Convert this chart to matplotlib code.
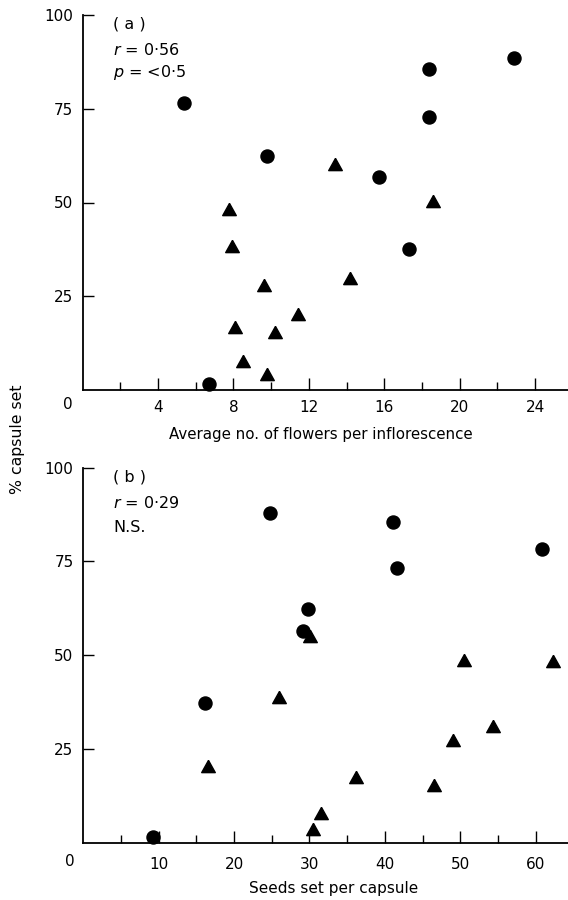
import matplotlib
matplotlib.use("Agg")
import matplotlib.pyplot as plt

# (a) % capsule set against average no. of flowers per inflorescence
a_circle_x = [5.4, 6.7, 9.8, 15.7, 17.3, 18.4, 18.4, 22.9]
a_circle_y = [76.6, 1.5, 62.4, 56.9, 37.5, 85.6, 72.7, 88.6]
a_tri_x = [7.75, 7.9, 8.1, 8.5, 9.6, 9.8, 10.2, 11.4, 13.4, 14.2, 18.6]
a_tri_y = [48.4, 38.5, 16.9, 7.7, 28.0, 4.4, 15.4, 20.2, 60.3, 30.0, 50.4]

# (b) % capsule set against seeds set per capsule
b_circle_x = [9.3, 16.2, 24.8, 29.1, 29.8, 41.1, 41.6, 60.8]
b_circle_y = [1.4, 37.2, 88.0, 56.5, 62.3, 85.4, 73.2, 78.3]
b_tri_x = [16.5, 25.9, 30.1, 30.5, 31.5, 36.2, 46.5, 49.0, 50.5, 54.3, 62.3]
b_tri_y = [20.4, 38.9, 55.1, 3.6, 8.0, 17.6, 15.4, 27.4, 48.7, 31.2, 48.5]

y_ticks = [25, 50, 75, 100]
a_ticks = [4, 8, 12, 16, 20, 24]
a_minor = [2, 6, 10, 14, 18, 22]
b_ticks = [10, 20, 30, 40, 50, 60]
b_minor = [5, 15, 25, 35, 45, 55]

plt.rcParams['font.family'] = ['DejaVu Sans']
plt.rcParams['font.size'] = 11

W, H = 568, 900
fig = plt.figure(figsize=(W / 100, H / 100), dpi=100)

tri = [(0, 0.9), (-1, -0.9), (1, -0.9), (0, 0.9)]


def setup(ax, xmax, major, minor, xpad):
    ax.set_xlim(0, xmax)
    ax.set_ylim(0, 100)
    for s in ['top', 'right']:
        ax.spines[s].set_visible(False)
    for s in ['left', 'bottom']:
        ax.spines[s].set_linewidth(1.3)
    ax.set_yticks(y_ticks)
    ax.set_xticks(major)
    ax.set_xticks(minor, minor=True)
    ax.tick_params(axis='y', direction='in', length=7.7, width=1, pad=7, labelsize=11)
    ax.tick_params(axis='x', which='major', direction='in', length=8.6, width=1,
                   pad=xpad, labelsize=11)
    ax.tick_params(axis='x', which='minor', direction='in', length=5.8, width=1)


def draw(ax, cx, cy, tx, ty):
    ax.plot(cx, cy, 'o', color='black', ms=9.4, ls='none', clip_on=False, zorder=5)
    ax.plot(tx, ty, marker=tri, color='black', ms=9.8, ls='none', clip_on=False, zorder=5)


# top panel
ax1 = fig.add_axes([82.7 / W, 1 - 390 / H, (W - 82.7) / W, 375 / H])
setup(ax1, 25.75, a_ticks, a_minor, 7)
draw(ax1, a_circle_x, a_circle_y, a_tri_x, a_tri_y)

# bottom panel
ax2 = fig.add_axes([83.3 / W, 1 - 842.7 / H, (W - 83.3) / W, 375 / H])
setup(ax2, 64.3, b_ticks, b_minor, 10)
draw(ax2, b_circle_x, b_circle_y, b_tri_x, b_tri_y)

# corner zeros
fig.text(68 / W, 1 - 405 / H, "0", ha='center', va='center', fontsize=11)
fig.text(70 / W, 1 - 861.7 / H, "0", ha='center', va='center', fontsize=11)

# panel annotations
fig.text(113 / W, 1 - 24 / H, "( a )", ha='left', va='center', fontsize=11.5)
fig.text(113 / W, 1 - 50 / H, "$r$ = 0·56", ha='left', va='center', fontsize=11.5)
fig.text(113 / W, 1 - 72 / H, "$p$ = <0·5", ha='left', va='center', fontsize=11.5)
fig.text(113 / W, 1 - 477 / H, "( b )", ha='left', va='center', fontsize=11.5)
fig.text(113 / W, 1 - 503 / H, "$r$ = 0·29", ha='left', va='center', fontsize=11.5)
fig.text(113 / W, 1 - 527 / H, "N.S.", ha='left', va='center', fontsize=11.5)

# axis labels
fig.text(321 / W, 1 - 434 / H, "Average no. of flowers per inflorescence",
         ha='center', va='center', fontsize=10.8)
fig.text(333.5 / W, 1 - 888 / H, "Seeds set per capsule",
         ha='center', va='center', fontsize=11)
fig.text(18 / W, 1 - 439 / H, "% capsule set", rotation=90,
         ha='center', va='center', fontsize=11.3)

fig.savefig("out.png", dpi=100)
